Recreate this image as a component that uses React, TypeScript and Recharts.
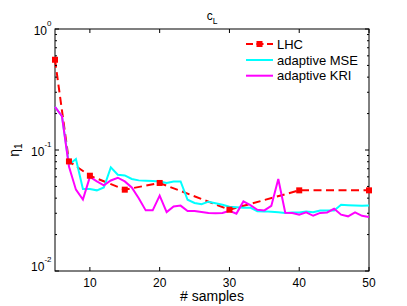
import React from 'react';
import { LineChart, Line, XAxis, YAxis } from 'recharts';

const samples = [5, 6, 7, 8, 9, 10, 11, 12, 13, 14, 15, 16, 17, 18, 19, 20, 21, 22, 23, 24, 25, 26, 27, 28, 29, 30, 31, 32, 33, 34, 35, 36, 37, 38, 39, 40, 41, 42, 43, 44, 45, 46, 47, 48, 49, 50];
const mseValues = [0.227, 0.19, 0.0756, 0.0843, 0.0476, 0.0476, 0.0464, 0.049, 0.0718, 0.0625, 0.0616, 0.0576, 0.0561, 0.0558, 0.0555, 0.055, 0.0534, 0.055, 0.055, 0.0388, 0.0365, 0.0356, 0.0374, 0.0363, 0.0353, 0.034, 0.0337, 0.0334, 0.0334, 0.0312, 0.0311, 0.0309, 0.0306, 0.0302, 0.0304, 0.0305, 0.031, 0.0306, 0.0316, 0.0316, 0.0316, 0.0353, 0.035, 0.0348, 0.0346, 0.0347];
const kriValues = [0.227, 0.19, 0.073, 0.047, 0.039, 0.06, 0.055, 0.051, 0.056, 0.059, 0.055, 0.049, 0.04, 0.0317, 0.0317, 0.042, 0.0307, 0.0342, 0.0347, 0.0313, 0.0313, 0.0307, 0.0302, 0.03, 0.0302, 0.0315, 0.0298, 0.0376, 0.035, 0.0321, 0.0317, 0.0345, 0.0576, 0.0303, 0.0302, 0.0292, 0.0305, 0.0286, 0.0302, 0.0305, 0.0327, 0.0292, 0.0283, 0.0305, 0.0286, 0.0279];
const lhcSamples = [5, 7, 10, 15, 20, 30, 40, 50];
const lhcValues = [0.557, 0.0805, 0.0613, 0.047, 0.0534, 0.0321, 0.0464, 0.0464];

const xTicks = [10, 20, 30, 40, 50];
const yTicks = [0.01, 0.02, 0.03, 0.04, 0.05, 0.06, 0.07, 0.08, 0.09, 0.1, 0.2, 0.3, 0.4, 0.5, 0.6, 0.7, 0.8, 0.9, 1];
const seriesNames = ['LHC', 'adaptive MSE', 'adaptive KRI'];
const titleMain = 'c';
const titleSub = 'L';
const xLabel = '# samples';
const yLabelMain = 'η';
const yLabelSub = '1';

const W = 407;
const H = 306;
const MARGIN = { top: 29, right: 38, bottom: 0, left: 0 };
const YW = 55;
const XH = 35;
const PL = MARGIN.left + YW;
const PR = W - MARGIN.right;
const PT = MARGIN.top;
const PB = H - XH;
const FONT = '"Liberation Sans", Arial, Helvetica, sans-serif';
const RED = '#ff0000';
const CYAN = '#00ffff';
const MAGENTA = '#ff00ff';

const data = samples.map((s, i) => {
  const j = lhcSamples.indexOf(s);
  return { x: s, mse: mseValues[i], kri: kriValues[i], lhc: j >= 0 ? lhcValues[j] : null };
});

const XTick = (props: any) => {
  const { x, payload } = props;
  return (
    <g>
      <line x1={x} x2={x} y1={PB} y2={PB - 4} stroke="#000" />
      <line x1={x} x2={x} y1={PT} y2={PT + 4} stroke="#000" />
      <text x={x} y={PB + 15.5} textAnchor="middle" fontSize={12} fontFamily={FONT} fill="#000">
        {payload.value}
      </text>
    </g>
  );
};

const YTick = (props: any) => {
  const { y, payload } = props;
  const v = payload.value;
  const lg = Math.log10(v);
  const exp = Math.round(lg);
  const major = Math.abs(lg - exp) < 1e-6;
  const len = major ? 4 : 2;
  const base = exp === -2 ? y - 0.5 : y + 5.5;
  return (
    <g>
      <line x1={PL} x2={PL + len} y1={y} y2={y} stroke="#000" />
      <line x1={PR} x2={PR - len} y1={y} y2={y} stroke="#000" />
      {major && (
        <text x={PL - 3.5} y={base} textAnchor="end" fontSize={12} fontFamily={FONT} fill="#000">
          10
          <tspan dy={-9} fontSize={8}>{String(exp)}</tspan>
        </text>
      )}
    </g>
  );
};

const SquareDot = (props: any) => {
  const { cx, cy, payload, index } = props;
  if (payload == null || payload.lhc == null || cx == null || cy == null) return <g key={`e${index}`} />;
  return <rect key={`d${index}`} x={cx - 3} y={cy - 3} width={6} height={6} fill={RED} stroke="none" />;
};

const legendRows = [
  { name: seriesNames[0], color: RED, dashed: true, y: 44 },
  { name: seriesNames[1], color: CYAN, dashed: false, y: 60 },
  { name: seriesNames[2], color: MAGENTA, dashed: false, y: 75.7 },
];

export default function App() {
  const yMid = (PT + PB) / 2;
  return (
    <div style={{ position: 'absolute', left: 0, top: 0, width: W, height: H, background: '#fff' }}>
      <LineChart width={W} height={H} data={data} margin={MARGIN}>
        <XAxis
          dataKey="x"
          type="number"
          domain={[5, 50]}
          ticks={xTicks}
          height={XH}
          axisLine={false}
          tickLine={false}
          tickSize={0}
          tickMargin={0}
          tick={<XTick />}
          interval={0}
        />
        <YAxis
          type="number"
          scale="log"
          domain={[0.01, 1]}
          ticks={yTicks}
          width={YW}
          axisLine={false}
          tickLine={false}
          tickSize={0}
          tickMargin={0}
          tick={<YTick />}
          interval={0}
        />
        <rect x={PL} y={PT} width={PR - PL} height={PB - PT} fill="none" stroke="#000" strokeWidth={1} />
        <Line
          dataKey="lhc"
          stroke={RED}
          strokeWidth={2}
          strokeDasharray="8 4.5"
          connectNulls
          dot={SquareDot}
          activeDot={false}
          isAnimationActive={false}
          type="linear"
        />
        <Line dataKey="mse" stroke={CYAN} strokeWidth={2} dot={false} activeDot={false} isAnimationActive={false} type="linear" />
        <Line dataKey="kri" stroke={MAGENTA} strokeWidth={2} dot={false} activeDot={false} isAnimationActive={false} type="linear" />
        <text x={(PL + PR) / 2} y={19.5} textAnchor="middle" fontSize={12} fontFamily={FONT} fill="#000">
          {titleMain}
          <tspan dy={4} fontSize={8.5}>{titleSub}</tspan>
        </text>
        <text x={(PL + PR) / 2} y={301} textAnchor="middle" fontSize={14} fontFamily={FONT} fill="#000">
          {xLabel}
        </text>
        <text x={18.5} y={yMid} transform={`rotate(-90, 18.5, ${yMid})`} textAnchor="middle" fontSize={14} fontFamily={FONT} fill="#000">
          {yLabelMain}
          <tspan dy={3} fontSize={10}>{yLabelSub}</tspan>
        </text>
        <g>
          {legendRows.map((r) => (
            <g key={r.name}>
              <line x1={246} x2={273} y1={r.y} y2={r.y} stroke={r.color} strokeWidth={2} strokeDasharray={r.dashed ? '7 3.5' : undefined} />
              {r.dashed && <rect x={256.5} y={r.y - 3} width={6} height={6} fill={r.color} />}
              <text x={277} y={r.y + 4.6} fontSize={13} fontFamily={FONT} fill="#000">{r.name}</text>
            </g>
          ))}
        </g>
      </LineChart>
    </div>
  );
}
